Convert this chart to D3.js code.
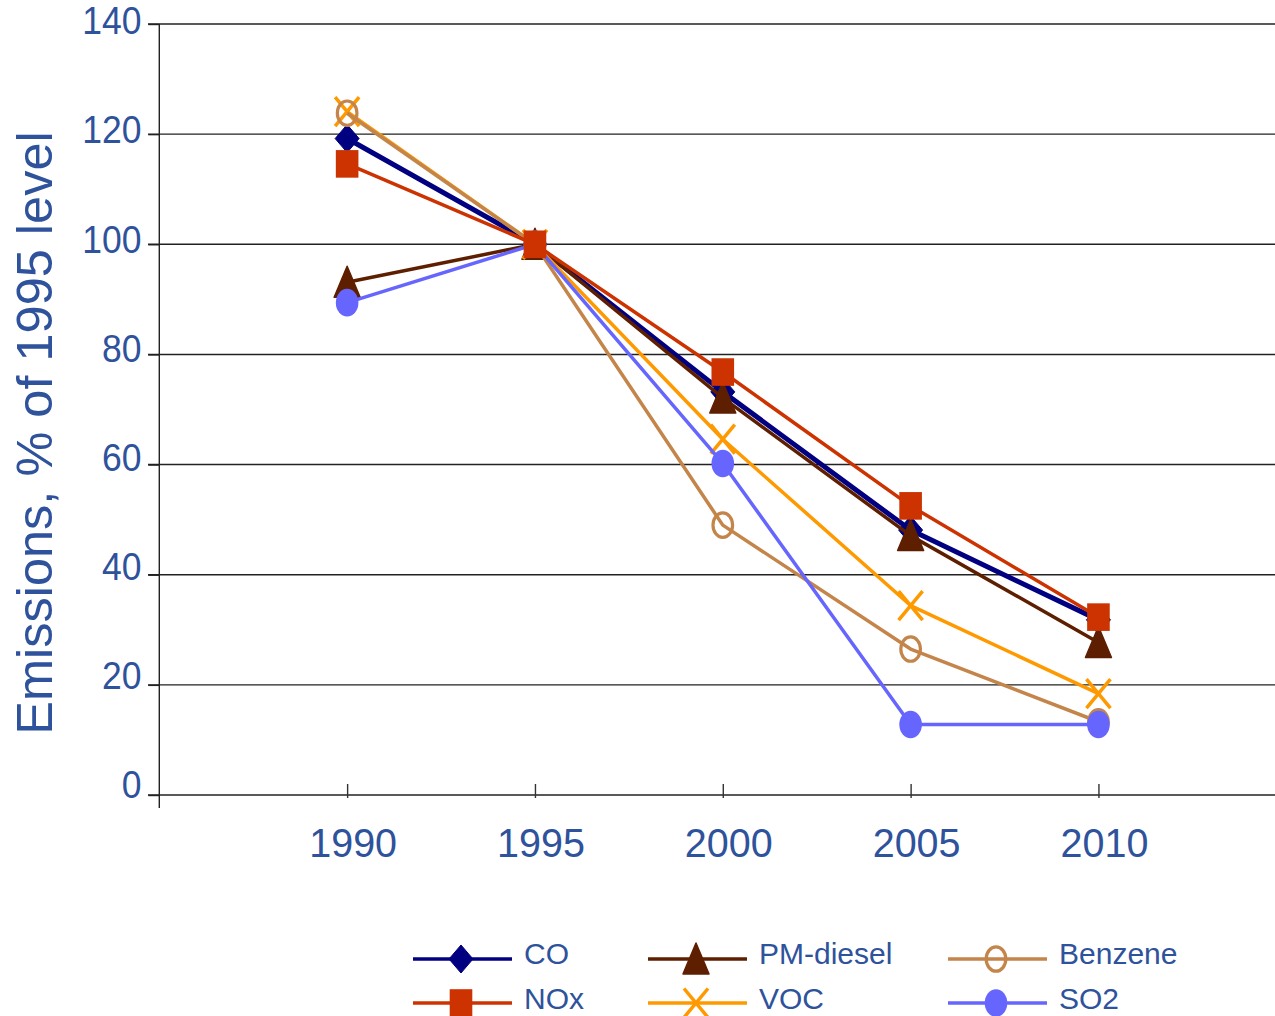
<!DOCTYPE html>
<html>
<head>
<meta charset="utf-8">
<script src="https://cdn.jsdelivr.net/npm/d3@7"></script>
<style>
  html, body { margin: 0; padding: 0; background: #fff; }
  svg { display: block; font-family: "Liberation Sans", Arial, sans-serif; }
</style>
</head>
<body>
<svg id="chart" width="1275" height="1016"></svg>
<script>
// Road-transport emissions relative to the 1995 level
const years = [1990, 1995, 2000, 2005, 2010];
const yTicks = [0, 20, 40, 60, 80, 100, 120, 140];

const seriesNames = ["CO", "PM-diesel", "VOC", "Benzene", "SO2", "NOx"];
const coValues      = [119.2, 100, 73.2, 48.1, 31.8];
const noxValues     = [114.6, 100, 76.8, 52.5, 32.3];
const pmValues      = [93.1, 100, 72.1, 47.1, 27.7];
const vocValues     = [124.1, 100, 64.6, 34.4, 18.4];
const benzeneValues = [123.8, 100, 49.0, 26.5, 13.3];
const so2Values     = [89.4, 100, 60.2, 12.8, 12.8];

const legendOrder = [["CO", "PM-diesel", "Benzene"], ["NOx", "VOC", "SO2"]];

const valuesByName = {
  "CO": coValues, "NOx": noxValues, "PM-diesel": pmValues,
  "VOC": vocValues, "Benzene": benzeneValues, "SO2": so2Values
};

const style = {
  "CO":        { color: "#000080", width: 5,   marker: "diamond" },
  "NOx":       { color: "#CC3300", width: 3.5, marker: "square" },
  "PM-diesel": { color: "#5E1F00", width: 3.5, marker: "triangle" },
  "VOC":       { color: "#FF9900", width: 3.5, marker: "cross" },
  "Benzene":   { color: "#C4854A", width: 3.5, marker: "ring" },
  "SO2":       { color: "#6666FF", width: 3.5, marker: "dot" }
};

const textColor = "#2E529B";
const svg = d3.select("#chart");

const x = d3.scaleLinear().domain([1985, 2014.7]).range([159.3, 1275]);
const y = d3.scaleLinear().domain([0, 140]).range([795, 24]);
// tick label baselines sit on a slightly tighter spacing than the gridlines
const yLabel = d3.scaleLinear().domain([0, 140]).range([798.3, 34.3]);

// gridlines
svg.append("g")
  .selectAll("line")
  .data(yTicks)
  .join("line")
  .attr("x1", 148).attr("x2", 1275)
  .attr("y1", d => y(d)).attr("y2", d => y(d))
  .attr("stroke", "#222").attr("stroke-width", 1.4);

// y axis
const yAxis = svg.append("g")
  .attr("transform", `translate(${x(1985)},0)`)
  .call(d3.axisLeft(y).tickValues(yTicks).tickSize(11).tickFormat(""));
yAxis.select(".domain").attr("stroke", "#222").attr("stroke-width", 1.4)
  .attr("d", `M0,${y(140)}V808`);
yAxis.selectAll(".tick line").attr("stroke", "#222").attr("stroke-width", 1.4);

svg.append("g")
  .selectAll("text")
  .data(yTicks)
  .join("text")
  .attr("transform", d => `translate(141.5,${yLabel(d)}) scale(1,1.08)`)
  .attr("text-anchor", "end")
  .attr("fill", textColor)
  .attr("font-size", 35.5)
  .text(d => d);

// x axis ticks straddle the zero line
const xAxis = svg.append("g")
  .attr("transform", `translate(0,${y(0) + 3})`)
  .call(d3.axisBottom(x).tickValues(years).tickSize(-14).tickFormat(""));
xAxis.select(".domain").remove();
xAxis.selectAll(".tick line").attr("stroke", "#333").attr("stroke-width", 1.4);

svg.append("g")
  .selectAll("text")
  .data(years)
  .join("text")
  .attr("transform", d => `translate(${x(d) + 6},857) scale(1,1.05)`)
  .attr("text-anchor", "middle")
  .attr("fill", textColor)
  .attr("font-size", 39.5)
  .text(d => d);

// y axis title
svg.append("text")
  .attr("transform", "translate(52,433) rotate(-90)")
  .attr("text-anchor", "middle")
  .attr("fill", textColor)
  .attr("font-size", 50.5)
  .text("Emissions, % of 1995 level");

// marker drawing
function drawMarker(g, kind, color, cx, cy) {
  if (kind === "diamond") {
    g.append("path").attr("d", `M${cx},${cy - 14}L${cx + 12},${cy}L${cx},${cy + 14}L${cx - 12},${cy}Z`)
      .attr("fill", color).attr("stroke", color).attr("stroke-width", 1).attr("stroke-linejoin", "round");
  } else if (kind === "square") {
    g.append("rect").attr("x", cx - 11.3).attr("y", cy - 13.8).attr("width", 22.6).attr("height", 27.6)
      .attr("fill", color);
  } else if (kind === "triangle") {
    g.append("path").attr("d", `M${cx},${cy - 16}L${cx + 13},${cy + 15}L${cx - 13},${cy + 15}Z`)
      .attr("fill", color).attr("stroke", color).attr("stroke-width", 1.5).attr("stroke-linejoin", "round");
  } else if (kind === "cross") {
    g.append("path").attr("d", `M${cx - 12},${cy - 14.5}L${cx + 12},${cy + 14.5}M${cx + 12},${cy - 14.5}L${cx - 12},${cy + 14.5}`)
      .attr("fill", "none").attr("stroke", color).attr("stroke-width", 3.5);
  } else if (kind === "ring") {
    g.append("ellipse").attr("cx", cx).attr("cy", cy).attr("rx", 9.8).attr("ry", 12.2)
      .attr("fill", "none").attr("stroke", color).attr("stroke-width", 3.2);
  } else if (kind === "dot") {
    g.append("ellipse").attr("cx", cx).attr("cy", cy).attr("rx", 11.3).attr("ry", 13.8)
      .attr("fill", color);
  }
}

const line = d3.line().x(d => x(d[0])).y(d => y(d[1]));

seriesNames.forEach(name => {
  const s = style[name];
  const pts = years.map((yr, i) => [yr, valuesByName[name][i]]);
  const g = svg.append("g").attr("class", "series");
  g.append("path")
    .attr("d", line(pts))
    .attr("fill", "none")
    .attr("stroke", s.color)
    .attr("stroke-width", s.width)
    .attr("stroke-linejoin", "round");
  pts.forEach(p => drawMarker(g, s.marker, s.color, x(p[0]), y(p[1])));
});

// legend
const legendCols = [413, 648, 948];
const legendRows = [959, 1003];
legendOrder.forEach((row, ri) => {
  row.forEach((name, ci) => {
    const s = style[name];
    const g = svg.append("g");
    const lx = legendCols[ci], ly = legendRows[ri];
    g.append("line").attr("x1", lx).attr("x2", lx + 99).attr("y1", ly).attr("y2", ly)
      .attr("stroke", s.color).attr("stroke-width", 3.5);
    drawMarker(g, s.marker, s.color, lx + 48, ly);
    g.append("text").attr("x", lx + 111).attr("y", ly + 5 + ri)
      .attr("fill", textColor).attr("font-size", 30).text(name);
  });
});
</script>
</body>
</html>
